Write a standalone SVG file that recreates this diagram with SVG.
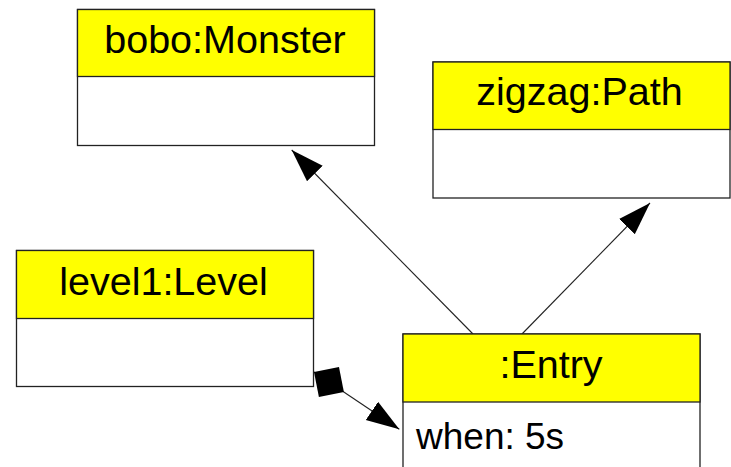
<svg xmlns="http://www.w3.org/2000/svg" width="731" height="467" viewBox="0 0 731 467">
  <style>
    .hdr { fill: #ffff00; stroke: #222; stroke-width: 1.3; }
    .body { fill: #ffffff; stroke: #222; stroke-width: 1.3; }
    .name { font-family: "Liberation Sans", Arial, sans-serif; font-size: 39.5px; fill: #000; text-anchor: middle; }
    .attr { font-family: "Liberation Sans", Arial, sans-serif; font-size: 37px; fill: #000; }
    .link { fill: none; stroke: #222; stroke-width: 1.1; }
  </style>
  <defs>
    <marker id="arrow" markerUnits="userSpaceOnUse" markerWidth="34" markerHeight="24" refX="33" refY="11" orient="auto">
      <path d="M0,0 L33,11 L0,22 Z" fill="#000"/>
    </marker>
    <marker id="diamond" markerUnits="userSpaceOnUse" markerWidth="37" markerHeight="37" refX="0" refY="18" orient="auto">
      <path d="M0,18 L18,0 L36,18 L18,36 Z" fill="#000"/>
    </marker>
  </defs>

  <!-- connectors -->
  <g id="connectors">
    <line class="link" x1="473" y1="334" x2="291.7" y2="150" marker-end="url(#arrow)"/>
    <line class="link" x1="522" y1="334" x2="650" y2="203" marker-end="url(#arrow)"/>
    <line class="link" x1="314" y1="372" x2="399.3" y2="429.3" marker-start="url(#diamond)" marker-end="url(#arrow)"/>
  </g>

  <!-- object boxes -->
  <g id="bobo">
    <rect class="body" x="77.5" y="9.5" width="297" height="136"/>
    <rect class="hdr" x="77.5" y="9.5" width="297" height="67"/>
    <text class="name" x="225" y="53">bobo:Monster</text>
  </g>

  <g id="zigzag">
    <rect class="body" x="433" y="62" width="297" height="136"/>
    <rect class="hdr" x="433" y="62" width="297" height="67.5"/>
    <text class="name" x="579.5" y="105">zigzag:Path</text>
  </g>

  <g id="level1">
    <rect class="body" x="16.5" y="250.5" width="297" height="136"/>
    <rect class="hdr" x="16.5" y="250.5" width="297" height="68"/>
    <text class="name" x="163.5" y="295">level1:Level</text>
  </g>

  <g id="entry">
    <rect class="body" x="403" y="334" width="297" height="150"/>
    <rect class="hdr" x="403" y="334" width="297" height="68"/>
    <text class="name" x="551" y="378">:Entry</text>
    <text class="attr" x="416" y="449">when: 5s</text>
  </g>
</svg>
